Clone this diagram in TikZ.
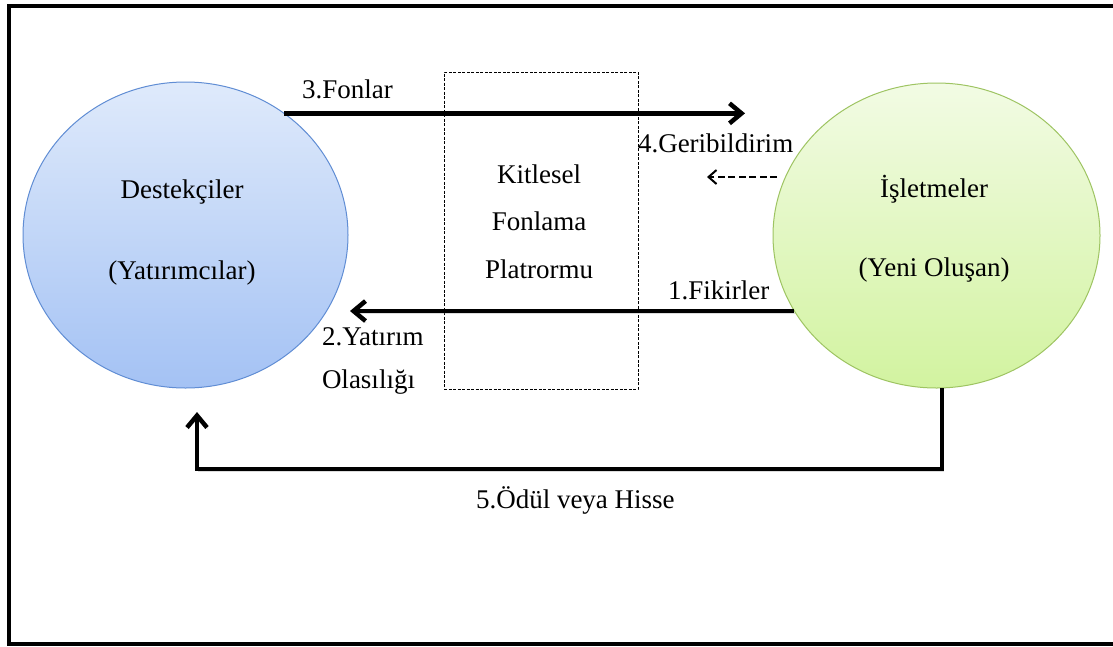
\documentclass[tikz,border=0pt]{standalone}
\usepackage{fontspec}
\setmainfont{LiberationSerif}[Extension=.ttf, UprightFont=*-Regular, BoldFont=*-Bold]
\usetikzlibrary{arrows.meta,shapes.geometric}
\definecolor{backerTop}{RGB}{223,234,251}
\definecolor{backerBot}{RGB}{164,194,244}
\definecolor{backerEdge}{RGB}{96,141,212}
\definecolor{firmTop}{RGB}{242,251,228}
\definecolor{firmBot}{RGB}{210,243,160}
\definecolor{firmEdge}{RGB}{158,196,98}
\begin{document}
\begin{tikzpicture}[x=1pt,y=-1pt,
  every node/.style={font=\fontsize{27}{31}\selectfont, text=black, inner sep=0pt, outer sep=0pt},
  party/.style={ellipse, line width=1pt},
  flow/.style={line width=4.5pt, -{Straight Barb[length=12pt,width=20pt]},
    preaction={draw=black!45, opacity=0.3, transform canvas={xshift=1pt,yshift=-2pt}}},
  hint/.style={line width=2pt, dash pattern=on 7pt off 3.5pt,
    -{Straight Barb[length=8pt,width=14pt]}},
  lbl/.style={anchor=base west},
  mid/.style={anchor=base}]
\useasboundingbox (0,0) rectangle (1113,646);
\fill[white] (0,0) rectangle (1113,646);

% outer frame (open on the right)
\draw[line width=4pt] (1113,6) -- (9,6) -- (9,644) -- (1113,644);

% the two parties
\node[party, draw=backerEdge, top color=backerTop, bottom color=backerBot,
  minimum width=325pt, minimum height=306pt] (L) at (185.5,235) {};
\node[party, draw=firmEdge, top color=firmTop, bottom color=firmBot,
  minimum width=327pt, minimum height=305pt] (R) at (936.5,235.5) {};

\node[mid] (Lt1) at (182,198) {Destekçiler};
\node[mid] (Lt2) at (182,279) {(Yatırımcılar)};
\node[mid] (Rt1) at (934,197) {İşletmeler};
\node[mid] (Rt2) at (934,276) {(Yeni Oluşan)};

% crowdfunding platform
\node[draw, line width=1pt, dash pattern=on 3pt off 1.5pt,
  minimum width=194pt, minimum height=317pt] (P) at (541,230.5) {};
\node[mid] (P1) at (539,183) {Kitlesel};
\node[mid] (P2) at (539,230.5) {Fonlama};
\node[mid] (P3) at (539,278) {Platrormu};

% free ends of the connectors
\coordinate (fundTip) at (745,112);
\coordinate (ideaTip) at (350,311);
\coordinate (fbStart) at (777,177);
\coordinate (fbTip) at (707,177);
\coordinate (rewardCorner) at (197,469);
\coordinate (rewardTip) at (197,412);

% connectors
\draw[flow] (L.51.8) -- (L.51.8 -| fundTip);
\draw[flow] (R.208) -- (R.208 -| ideaTip);
\draw[hint] (fbStart) -- (fbTip);
\draw[flow] ([xshift=5.5pt]R.south) |- (rewardCorner) -- (rewardTip);

% connector labels
\node[lbl] (f3) at (302,98) {3.Fonlar};
\node[lbl] (f4) at (638,152) {4.Geribildirim};
\node[lbl] (f1) at (668,299) {1.Fikirler};
\node[lbl] (f2a) at (322,345) {2.Yatırım};
\node[lbl] (f2b) at (322,388) {Olasılığı};
\node[lbl] (f5) at (476,508) {5.Ödül veya Hisse};
\end{tikzpicture}
\end{document}
